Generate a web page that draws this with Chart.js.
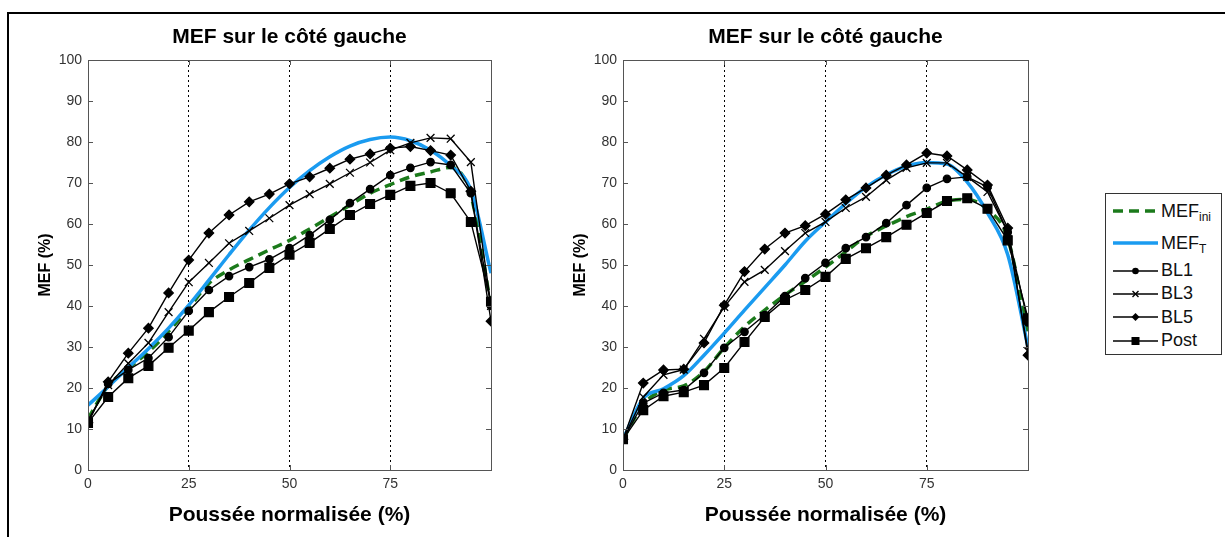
<!DOCTYPE html>
<html lang="fr">
<head>
<meta charset="UTF-8">
<title>MEF sur le côté gauche</title>
<script src="https://cdn.jsdelivr.net/npm/chart.js"></script>
<style>
    body {
        margin: 0;
        width: 1225px;
        height: 537px;
        overflow: hidden;
        background: #fff;
        font-family: "Liberation Sans", Arial, sans-serif;
        position: relative;
    }
    .frame {
        position: absolute;
        left: 7px;
        top: 12px;
        width: 1240px;
        height: 560px;
        border: 2px solid #000;
    }
    .chart-box {
        position: absolute;
        top: 14px;
        height: 523px;
    }
    #box1 { left: 20px; width: 500px; }
    #box2 { left: 555px; width: 502px; }
    .legend {
        position: absolute;
        left: 1105px;
        top: 193px;
        width: 117px;
        height: 162px;
        border: 1px solid #333;
        padding-top: 1px;
        box-sizing: border-box;
        background: #fff;
    }
    .legend .row {
        display: flex;
        align-items: center;
        height: 23.3px;
        font-size: 18px;
        color: #111;
    }
    .legend .row.tall { height: 32px; }
    .legend svg { margin-left: 7px; margin-right: 3px; flex: none; }
    .legend sub { font-size: 12px; position: relative; top: 4px; vertical-align: baseline; }
</style>
</head>
<body>
<div class="frame"></div>
<div class="chart-box" id="box1"><canvas id="chartLeft"></canvas></div>
<div class="chart-box" id="box2"><canvas id="chartRight"></canvas></div>
<div class="legend" id="legend"></div>

<script>
// poussée normalisée (%)
const xPct = [0, 5, 10, 15, 20, 25, 30, 35, 40, 45, 50, 55, 60, 65, 70, 75, 80, 85, 90, 95, 100];
const xTicks = [0, 25, 50, 75];
const chartTitle = 'MEF sur le côté gauche';
const xTitle = 'Poussée normalisée (%)';
const yTitle = 'MEF (%)';

// graphe de gauche
const leftIni  = [12.5, 20.5, 24.8, 28.8, 33.8, 39.5, 45.5, 48.8, 51.3, 53.7, 56, 58.8, 61.7, 64.6, 67.5, 69.6, 71.5, 72.7, 73.8, 67, 40];
const leftT    = [15.8, 20.3, 25, 29.6, 34.6, 40.2, 46.3, 52.5, 58.5, 64, 68.9, 73, 76.4, 79, 80.6, 81.2, 80.3, 78, 74.2, 68.3, 48];
const leftBL1  = [12, 21, 24.4, 27.3, 32.4, 38.8, 43.9, 47.3, 49.5, 51.4, 54.1, 57.3, 61, 65.1, 68.5, 71.9, 73.7, 75.1, 74.4, 67.5, 40];
const leftBL3  = [12, 20.7, 26, 31, 38.5, 45.8, 50.5, 55.3, 58.3, 61.4, 64.6, 67.3, 69.8, 72.5, 75, 78, 79.8, 81, 80.8, 75.1, 40];
const leftBL5  = [11.5, 21.5, 28.5, 34.6, 43.2, 51.2, 57.8, 62.2, 65.4, 67.3, 69.8, 71.5, 73.6, 75.8, 77.1, 78.5, 78.9, 77.9, 76.8, 68, 36.3];
const leftPost = [11.5, 17.8, 22.4, 25.4, 29.8, 34, 38.5, 42.2, 45.6, 49.3, 52.5, 55.4, 58.8, 62.2, 64.9, 67.1, 69.3, 70, 67.5, 60.5, 41];

// graphe de droite
const rightIni  = [7.5, 16, 19.5, 20.5, 24, 29.8, 35, 39, 42.7, 46, 49.5, 53.2, 57, 59.5, 61.8, 63.6, 65.6, 66, 63.5, 56.5, 33];
const rightT    = [7.5, 17.5, 19.8, 23, 28, 33.4, 39, 44.5, 50, 55.8, 60.5, 65, 69, 72, 74.1, 75, 74.6, 70.2, 62.7, 52.5, 30];
const rightBL1  = [7.5, 16.3, 18.8, 19.5, 23.7, 29.8, 33.7, 37.8, 42.4, 46.8, 50.5, 54.1, 56.8, 60.2, 64.6, 68.8, 71, 71.5, 69, 58, 36];
const rightBL3  = [7.5, 17.8, 23.2, 24.5, 32, 39.8, 45.9, 48.8, 53.4, 57.8, 60.5, 63.9, 66.6, 70.7, 73.7, 74.9, 74.9, 71.5, 67.8, 58, 29];
const rightBL5  = [7.5, 21.2, 24.4, 24.6, 31, 40.2, 48.4, 53.9, 57.8, 59.6, 62.4, 65.9, 68.8, 71.9, 74.4, 77.3, 76.6, 73.2, 69.5, 59, 28];
const rightPost = [7.5, 14.6, 18, 19, 20.7, 24.9, 31.2, 37.3, 41.5, 43.9, 47.1, 51.5, 54.1, 56.8, 59.8, 62.7, 65.6, 66.3, 63.7, 56, 37];

const GREEN = '#1b7a1b';
const BLUE = '#1a9bf0';

Chart.defaults.font.family = "'Liberation Sans', Arial, sans-serif";

function pts(values) {
    return values.map((v, i) => ({ x: xPct[i], y: v }));
}

function blackLine(label, values, style, radius) {
    return {
        label: label,
        data: pts(values),
        borderColor: '#000',
        backgroundColor: '#000',
        borderWidth: 1.4,
        pointStyle: style,
        pointRadius: radius,
        pointBorderWidth: 1.3,
        tension: 0
    };
}

// cadre + graduations vers l'intérieur (style matlab)
const matlabBox = {
    id: 'matlabBox',
    afterDraw(chart) {
        const { ctx, chartArea: a, scales: { x, y } } = chart;
        ctx.save();
        ctx.strokeStyle = '#555';
        ctx.lineWidth = 1;
        ctx.beginPath();
        y.ticks.forEach(t => {
            const py = Math.round(y.getPixelForValue(t.value)) + 0.5;
            ctx.moveTo(a.left, py); ctx.lineTo(a.left + 5, py);
            ctx.moveTo(a.right, py); ctx.lineTo(a.right - 5, py);
        });
        x.ticks.forEach(t => {
            const px = Math.round(x.getPixelForValue(t.value)) + 0.5;
            ctx.moveTo(px, a.bottom); ctx.lineTo(px, a.bottom - 5);
            ctx.moveTo(px, a.top); ctx.lineTo(px, a.top + 5);
        });
        ctx.stroke();
        ctx.strokeRect(Math.round(a.left) + 0.5, Math.round(a.top) + 0.5,
            Math.round(a.right - a.left), Math.round(a.bottom - a.top));
        ctx.restore();
    }
};

function makeChart(id, ini, mefT, bl1, bl3, bl5, post) {
    return new Chart(document.getElementById(id), {
        type: 'line',
        data: {
            datasets: [
                blackLine('BL1', bl1, 'circle', 3.7),
                blackLine('BL3', bl3, 'crossRot', 5.5),
                blackLine('BL5', bl5, 'rectRot', 4.7),
                blackLine('Post', post, 'rect', 6.2),
                {
                    label: 'MEF_T',
                    data: pts(mefT),
                    borderColor: BLUE,
                    borderWidth: 3.5,
                    pointRadius: 0,
                    cubicInterpolationMode: 'monotone'
                },
                {
                    label: 'MEF_ini',
                    data: pts(ini),
                    borderColor: GREEN,
                    borderWidth: 3.5,
                    borderDash: [10, 6],
                    pointRadius: 0,
                    cubicInterpolationMode: 'monotone'
                }
            ]
        },
        options: {
            responsive: true,
            maintainAspectRatio: false,
            animation: false,
            layout: { padding: { left: 0, right: 29, top: 0, bottom: 3 } },
            plugins: {
                legend: { display: false },
                tooltip: { enabled: false },
                title: {
                    display: true,
                    fullSize: false,
                    text: chartTitle,
                    color: '#000',
                    font: { size: 21, weight: 'bold' },
                    padding: { top: 10.4, bottom: 10.4 }
                }
            },
            scales: {
                x: {
                    type: 'linear',
                    min: 0,
                    max: 100,
                    afterFit: s => { s.height = 64; },
                    afterBuildTicks: s => { s.ticks = xTicks.map(v => ({ value: v })); },
                    ticks: { color: '#333', font: { size: 14 }, padding: 6, maxRotation: 0 },
                    grid: {
                        drawTicks: false,
                        lineWidth: 1,
                        color: c => (c.tick && c.tick.value === 0) ? 'rgba(0,0,0,0)' : '#000'
                    },
                    border: { display: false, dash: [2, 3] },
                    title: {
                        display: true,
                        text: xTitle,
                        color: '#000',
                        font: { size: 21, weight: 'bold' },
                        padding: { top: 0, bottom: 6.4 }
                    }
                },
                y: {
                    min: 0,
                    max: 100,
                    afterFit: s => { s.width = 68; },
                    ticks: { stepSize: 10, color: '#333', font: { size: 14 }, padding: 6 },
                    grid: { display: false, drawTicks: false },
                    border: { display: false },
                    title: {
                        display: true,
                        text: yTitle,
                        color: '#000',
                        font: { size: 16, weight: 'bold' },
                        padding: { top: 16.4, bottom: 0 }
                    }
                }
            }
        },
        plugins: [matlabBox]
    });
}

makeChart('chartLeft', leftIni, leftT, leftBL1, leftBL3, leftBL5, leftPost);
makeChart('chartRight', rightIni, rightT, rightBL1, rightBL3, rightBL5, rightPost);

// légende html (indices en vrai texte)
const legendNames = ['MEF', 'MEF', 'BL1', 'BL3', 'BL5', 'Post'];
const legendSubs = ['ini', 'T', '', '', '', ''];
const legendKinds = ['dash', 'blue', 'circle', 'cross', 'diamond', 'square'];

function sampleSvg(kind) {
    let line = '<line x1="0" y1="8" x2="45" y2="8" stroke="#000" stroke-width="1.4"/>';
    let mark = '';
    if (kind === 'dash') line = '<line x1="0" y1="8" x2="45" y2="8" stroke="' + GREEN + '" stroke-width="3.5" stroke-dasharray="10 6"/>';
    if (kind === 'blue') line = '<line x1="0" y1="8" x2="45" y2="8" stroke="' + BLUE + '" stroke-width="3.5"/>';
    if (kind === 'circle') mark = '<circle cx="22.5" cy="8" r="3.3" fill="#000"/>';
    if (kind === 'cross') mark = '<path d="M19.5 5 L25.5 11 M25.5 5 L19.5 11" stroke="#000" stroke-width="1.4"/>';
    if (kind === 'diamond') mark = '<path d="M22.5 4 L26.5 8 L22.5 12 L18.5 8 Z" fill="#000"/>';
    if (kind === 'square') mark = '<rect x="18.5" y="4" width="8" height="8" fill="#000"/>';
    return '<svg width="45" height="16">' + line + mark + '</svg>';
}

document.getElementById('legend').innerHTML = legendNames.map((n, i) =>
    '<div class="row' + (legendSubs[i] ? ' tall' : '') + '">' + sampleSvg(legendKinds[i]) +
    '<span>' + n + (legendSubs[i] ? '<sub>' + legendSubs[i] + '</sub>' : '') + '</span></div>'
).join('');
</script>
</body>
</html>
